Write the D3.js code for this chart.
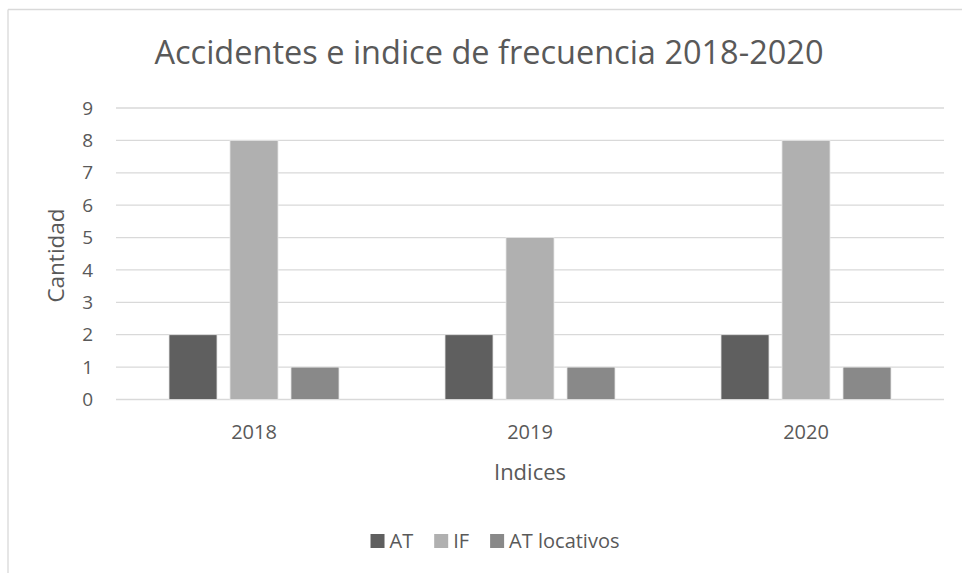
<!DOCTYPE html>
<meta charset="utf-8">
<head>
  <title>Accidentes e indice de frecuencia 2018-2020</title>
  <script src="https://d3js.org/d3.v7.min.js"></script>
  <style>
    body { margin: 0; background: #fff; }
    svg text { font-family: "Open Sans", sans-serif; fill: #595959; }
    .grid line { stroke: #d9d9d9; stroke-width: 1.3px; }
  </style>
</head>
<body>
  <svg id="chart" width="962" height="573"></svg>
  <script>
    var years = ["2018", "2019", "2020"];
    var series = ["AT", "IF", "AT locativos"];
    var at = [2, 2, 2];
    var indiceF = [8, 5, 8];
    var atLocativos = [1, 1, 1];
    var colors = ["#5f5f5f", "#b0b0b0", "#898989"];
    var yTicks = [0, 1, 2, 3, 4, 5, 6, 7, 8, 9];

    var svg = d3.select("#chart"),
      plotLeft = 116, plotRight = 944, plotTop = 108, plotBottom = 399.5;

    // frame of the chart (only top and left edges are visible)
    svg.append("line").attr("x1", 8).attr("x2", 962).attr("y1", 9.5).attr("y2", 9.5)
      .attr("stroke", "#d9d9d9").attr("stroke-width", 1.3);
    svg.append("line").attr("x1", 8).attr("x2", 8).attr("y1", 9.5).attr("y2", 573)
      .attr("stroke", "#d9d9d9").attr("stroke-width", 1.3);

    var x0 = d3.scaleBand().domain(years).range([plotLeft, plotRight]);
    var x1 = d3.scaleBand().domain(series).range([-85, 85]).paddingInner(0.213);
    var y = d3.scaleLinear().domain([0, 9]).range([plotBottom, plotTop]);
    var color = d3.scaleOrdinal().domain(series).range(colors);

    var rows = years.map(function(yr, i) {
      return { year: yr, values: [at[i], indiceF[i], atLocativos[i]] };
    });

    // gridlines
    svg.append("g").attr("class", "grid")
      .selectAll("line").data(yTicks).enter().append("line")
      .attr("x1", plotLeft).attr("x2", plotRight)
      .attr("y1", function(d) { return y(d); })
      .attr("y2", function(d) { return y(d); });

    // y tick labels
    svg.append("g").selectAll("text").data(yTicks).enter().append("text")
      .attr("x", 93).attr("y", function(d) { return y(d); })
      .attr("dy", "0.35em").attr("text-anchor", "end")
      .style("font-size", "19px")
      .text(function(d) { return d; });

    // bars
    var group = svg.append("g").selectAll("g").data(rows).enter().append("g")
      .attr("transform", function(d) { return "translate(" + (x0(d.year) + x0.bandwidth() / 2) + ",0)"; });

    group.selectAll("rect")
      .data(function(d) { return d.values.map(function(v, j) { return { key: series[j], value: v }; }); })
      .enter().append("rect")
      .attr("x", function(d) { return x1(d.key); })
      .attr("width", x1.bandwidth())
      .attr("y", function(d) { return y(d.value); })
      .attr("height", function(d) { return y(0) - y(d.value); })
      .attr("fill", function(d) { return color(d.key); })
      .attr("stroke", "#e6e6e6").attr("stroke-width", 0.8);

    // x tick labels
    svg.append("g").selectAll("text").data(years).enter().append("text")
      .attr("x", function(d) { return x0(d) + x0.bandwidth() / 2; })
      .attr("y", 439).attr("text-anchor", "middle")
      .style("font-size", "20px")
      .text(function(d) { return d; });

    // title and axis titles
    svg.append("text").attr("x", 489).attr("y", 64).attr("text-anchor", "middle")
      .style("font-size", "32.5px").text("Accidentes e indice de frecuencia 2018-2020");

    svg.append("text").attr("x", 530).attr("y", 480).attr("text-anchor", "middle")
      .style("font-size", "22px").text("Indices");

    svg.append("text").attr("transform", "translate(64,255.5) rotate(-90)")
      .attr("text-anchor", "middle").style("font-size", "22.5px").text("Cantidad");

    // legend
    var legend = svg.append("g");
    var xPos = 0;
    series.forEach(function(s) {
      var item = legend.append("g").attr("transform", "translate(" + xPos + ",0)");
      item.append("rect").attr("x", 0).attr("y", -7).attr("width", 14).attr("height", 14)
        .attr("fill", color(s));
      var t = item.append("text").attr("x", 19).attr("dy", "0.35em")
        .style("font-size", "20px").text(s);
      xPos += 19 + t.node().getComputedTextLength() + 21;
    });
    var legendW = xPos - 21;
    legend.attr("transform", "translate(" + (495 - legendW / 2) + ",541)");
  </script>
</body>
